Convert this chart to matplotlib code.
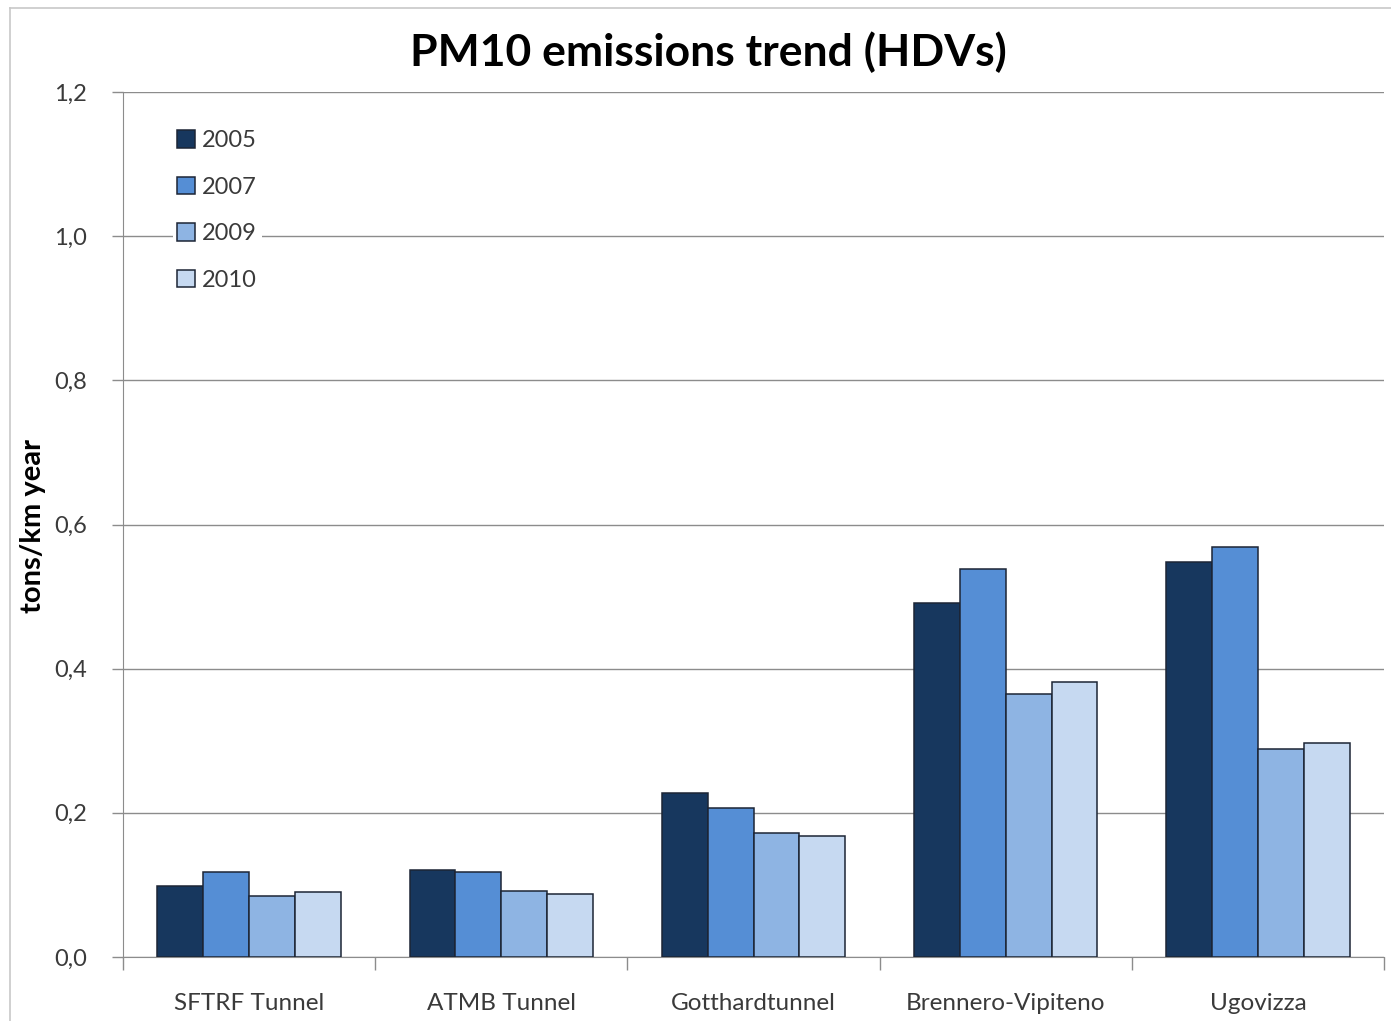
import numpy as np
import matplotlib.pyplot as plt
from matplotlib.lines import Line2D
from matplotlib.ticker import FixedLocator

# ─── Data ─────────────────────────────────────────────────────────────────────
tunnels = ["SFTRF Tunnel", "ATMB Tunnel", "Gotthardtunnel", "Brennero-Vipiteno", "Ugovizza"]
years = ["2005", "2007", "2009", "2010"]
pm10_2005 = [0.099, 0.121, 0.228, 0.491, 0.548]
pm10_2007 = [0.118, 0.118, 0.207, 0.538, 0.569]
pm10_2009 = [0.085, 0.092, 0.172, 0.365, 0.289]
pm10_2010 = [0.090, 0.087, 0.168, 0.382, 0.297]
yticks = [0.0, 0.2, 0.4, 0.6, 0.8, 1.0, 1.2]
ytick_labels = ["0,0", "0,2", "0,4", "0,6", "0,8", "1,0", "1,2"]

series = [pm10_2005, pm10_2007, pm10_2009, pm10_2010]
colors = ["#17375E", "#558ED5", "#8EB4E3", "#C6D9F1"]

plt.rcParams["font.family"] = ["Lato", "DejaVu Sans"]
TXT = "#3a3a3a"
GRID = "#8c8c8c"

fig = plt.figure(figsize=(13.91, 10.21), dpi=100)
ax = fig.add_axes([123 / 1391, 1 - 957 / 1021, (1384 - 123) / 1391, (957 - 92) / 1021])

# chart border (Excel style)
fig.add_artist(Line2D([10 / 1391, 10 / 1391], [0, 1 - 8 / 1021], transform=fig.transFigure,
                      color="#c8c8c8", lw=1.2))
fig.add_artist(Line2D([10 / 1391, 1], [1 - 8 / 1021, 1 - 8 / 1021], transform=fig.transFigure,
                      color="#c8c8c8", lw=1.2))

x = np.arange(len(tunnels))
w = 1 / 5.5
for i, (vals, col, yr) in enumerate(zip(series, colors, years)):
    ax.bar(x + (i - 1.5) * w, vals, width=w, color=col, edgecolor="#1c2535",
           linewidth=1.1, label=yr, zorder=3)

ax.set_xlim(-0.5, len(tunnels) - 0.5)
ax.set_ylim(0, 1.2)
ax.set_yticks(yticks)
ax.set_yticklabels(ytick_labels)
ax.yaxis.grid(True, color=GRID, linewidth=1.0, zorder=0)
ax.set_axisbelow(True)

ax.set_xticks(x)
ax.set_xticklabels(tunnels)
ax.xaxis.set_minor_locator(FixedLocator(np.arange(-0.5, len(tunnels), 1.0)))
ax.tick_params(axis="x", which="major", length=0, pad=26, labelsize=17.5, labelcolor=TXT)
ax.tick_params(axis="x", which="minor", length=9, color=GRID, width=1)
ax.tick_params(axis="y", length=8, color=GRID, width=1, pad=18, labelsize=17, labelcolor=TXT)

for side in ["top", "right"]:
    ax.spines[side].set_visible(False)
ax.spines["left"].set_color(GRID)
ax.spines["bottom"].set_color(GRID)

fig.text(33 / 1391, 1 - 526 / 1021, "tons/km year", rotation=90, ha="center", va="center",
         fontsize=21, fontweight="bold", color="black")
fig.text(708 / 1391, 1 - 52 / 1021, "PM10 emissions trend (HDVs)", ha="center", va="center",
         fontsize=32, fontweight="bold", color="black")

leg = ax.legend(loc="upper left", bbox_to_anchor=(0.03, 0.975), fontsize=17, frameon=True,
                facecolor="white", edgecolor="none", framealpha=1, fancybox=False,
                handlelength=0.75, handleheight=0.75, handletextpad=0.3, labelspacing=1.08,
                borderpad=0.2)
for t in leg.get_texts():
    t.set_color(TXT)
leg.set_zorder(5)

fig.savefig("out.png", dpi=100, facecolor="white")
